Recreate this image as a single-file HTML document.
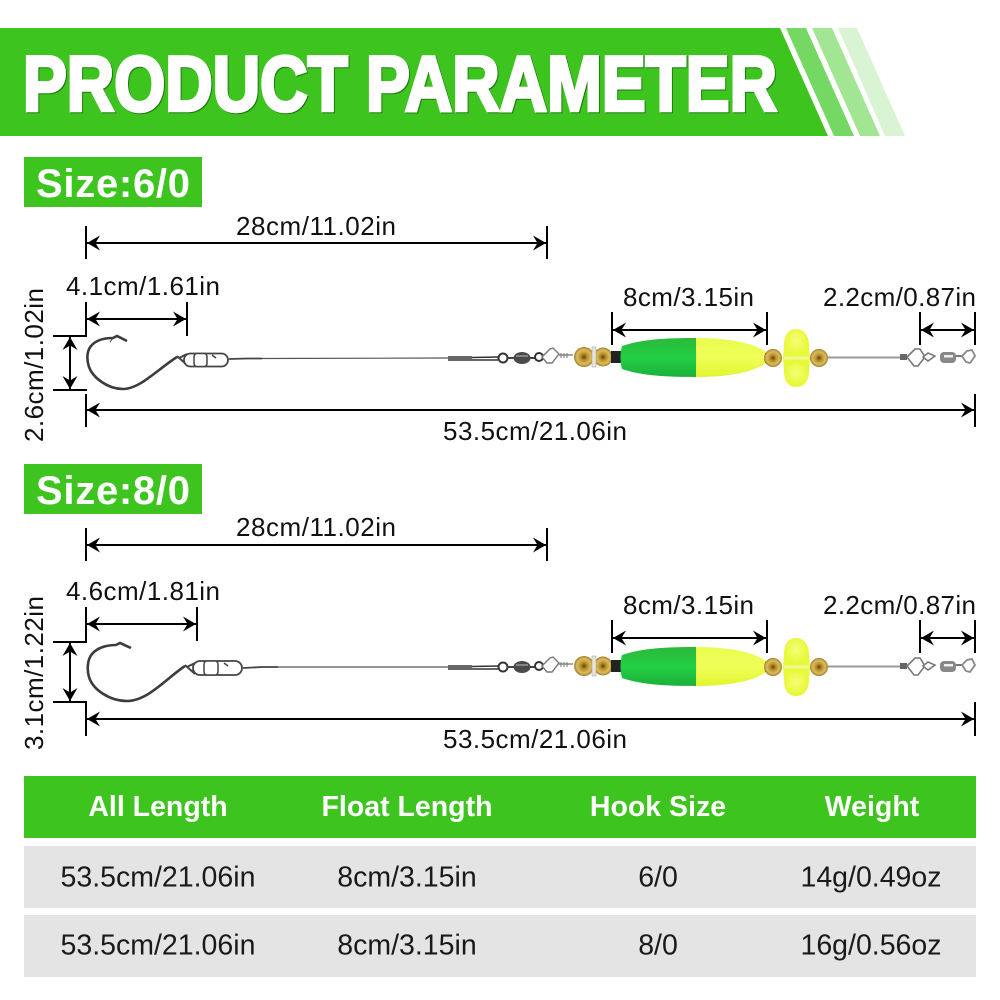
<!DOCTYPE html>
<html><head><meta charset="utf-8"><style>html,body{margin:0;padding:0;background:#fff}svg{display:block}text{font-family:"Liberation Sans",sans-serif}</style></head><body>
<svg width="1000" height="1000" viewBox="0 0 1000 1000" xmlns="http://www.w3.org/2000/svg">
<defs>
<path id="al" d="M0 0L13-7.5 8.5 0 13 7.5Z" fill="#000"/>
<path id="ar" d="M0 0L-13-7.5-8.5 0-13 7.5Z" fill="#000"/>
<path id="au" d="M0 0L-7.5 13 0 8.5 7.5 13Z" fill="#000"/>
<path id="ad" d="M0 0L-7.5-13 0-8.5 7.5-13Z" fill="#000"/>
<linearGradient id="gr" x1="0" y1="0" x2="0" y2="1"><stop offset="0" stop-color="#2cb83a"/><stop offset=".5" stop-color="#22d044"/><stop offset="1" stop-color="#1bb03a"/></linearGradient>
<linearGradient id="ye" x1="0" y1="0" x2="0" y2="1"><stop offset="0" stop-color="#eafc50"/><stop offset=".5" stop-color="#f0ff58"/><stop offset="1" stop-color="#e0f530"/></linearGradient>
<radialGradient id="go" cx=".5" cy=".5" r=".55"><stop offset="0" stop-color="#5e4410"/><stop offset=".3" stop-color="#b88f2a"/><stop offset=".65" stop-color="#dcbc5c"/><stop offset="1" stop-color="#8a6a1c"/></radialGradient>
<radialGradient id="yk" cx=".5" cy=".45" r=".55"><stop offset="0" stop-color="#f6ff78"/><stop offset="1" stop-color="#e8f83a"/></radialGradient>
<g id="rig">
<path d="M472 357.500L498 357" fill="none" stroke="#333" stroke-width="1.500"/>
<path d="M472 360L498 360" fill="none" stroke="#333" stroke-width="1.500"/>
<rect x="448" y="356" width="24" height="5" fill="#666"/>
<circle cx="503" cy="358" r="4.500" fill="#fff" stroke="#333" stroke-width="2"/>
<path d="M507 358L514 358" stroke="#444" stroke-width="2"/>
<ellipse cx="522" cy="358" rx="8.500" ry="6" fill="#4a4a4a"/>
<path d="M516 356H528" stroke="#999" stroke-width="1.500"/>
<path d="M530 358L535 358" stroke="#444" stroke-width="2"/>
<circle cx="539" cy="357" r="4" fill="#fff" stroke="#333" stroke-width="2"/>
<path d="M542 357L550 349 553 348 559 354 552 363 547 363Z" fill="#fff" stroke="#777" stroke-width="1.400"/>
<path d="M559 355H573" stroke="#888" stroke-width="1.500"/>
<path d="M561 353v5M564 353v5M567 353v5" stroke="#777" stroke-width="1"/>
<circle cx="584" cy="357" r="10" fill="url(#go)"/>
<circle cx="603" cy="357" r="9.500" fill="url(#go)"/>
<rect x="592" y="347" width="4" height="20" fill="#e8e4d8" stroke="#aaa" stroke-width=".6"/>
<rect x="611" y="351" width="12" height="12" fill="#222"/>
<path d="M696 338C660 338 640 340 622 346C620 353 620 362 622 369C640 375 660 377 696 377Z" fill="url(#gr)"/>
<path d="M696 338C725 338 752 342 766 352V363C752 373 725 377 696 377Z" fill="url(#ye)"/>
<rect x="765" y="353" width="5" height="10" fill="#222"/>
<circle cx="773" cy="358" r="9" fill="url(#go)"/>
<path d="M796 329C804 329 809 336 809 345L810 358 809 371C809 381 804 387 796 387C788 387 784 381 784 371L783 358 784 345C784 336 788 329 796 329Z" fill="#e8f83a"/>
<ellipse cx="796" cy="342" rx="11" ry="12" fill="url(#yk)"/>
<ellipse cx="796" cy="374" rx="11" ry="11" fill="url(#yk)"/>
<path d="M784 358H809" stroke="#f0f890" stroke-width="3"/>
<circle cx="819" cy="358" r="9" fill="url(#go)"/>
<path d="M828 357.500H900" stroke="#999" stroke-width="2"/>
<rect x="900" y="354" width="7" height="6" fill="#666"/>
<path d="M907 357L915 349 920 349 925 357 918 366 914 366Z" fill="#fff" stroke="#777" stroke-width="1.600"/>
<path d="M923 357L928 353 935 356 928 361Z" fill="#fff" stroke="#777" stroke-width="1.500"/>
<rect x="940" y="352" width="16" height="11" rx="4" fill="#888"/>
<rect x="944" y="355" width="9" height="2.500" fill="#eee"/>
<path d="M956 356H962" stroke="#777" stroke-width="2"/>
<path d="M962 356L967 351 972 350 975 356 970 363 966 362Z" fill="#fff" stroke="#888" stroke-width="1.800"/>
</g>
<g id="d8"><path d="M612 312V345M767 312V345M920 312V345M975 312V345M613 330H766M921 330H974" stroke="#000" stroke-width="2" fill="none"/><use href="#al" x="613" y="330"/><use href="#ar" x="766" y="330"/><use href="#al" x="921" y="330"/><use href="#ar" x="974" y="330"/></g>
</defs>

<!-- banner -->
<path d="M0 28H780L828 136H0Z" fill="#3dc41e"/>
<path d="M786 28H806L854 136H834Z" fill="#75d862"/>
<path d="M812 28H832L880 136H860Z" fill="#a2e593"/>
<path d="M838 28H857L905 136H885Z" fill="#d9f4d3"/>
<text x="24" y="111.500" font-size="78" font-weight="700" fill="#1f7a10" stroke="#1f7a10" stroke-width="3.500" textLength="754" lengthAdjust="spacingAndGlyphs">PRODUCT PARAMETER</text>
<text x="23" y="110.500" font-size="78" font-weight="700" fill="#fff" stroke="#fff" stroke-width="3.500" textLength="754" lengthAdjust="spacingAndGlyphs">PRODUCT PARAMETER</text>

<!-- section 1 -->
<rect x="24" y="157" width="178" height="50" fill="#3dc41e"/>
<text x="36" y="197" font-size="40" font-weight="700" fill="#fff" textLength="154">Size:6/0</text>
<g stroke="#000" stroke-width="2" fill="none">
<path d="M86 226V259M547 226V259M87 243H546"/>
<path d="M86 302V336H53M187 302V336M87 319H186M53 390H87M70 337V389M86 394V427M975 394V427M87 410H974"/>
</g>
<use href="#al" x="87" y="243"/><use href="#ar" x="546" y="243"/>
<use href="#al" x="87" y="319"/><use href="#ar" x="186" y="319"/>
<use href="#au" x="70" y="337"/><use href="#ad" x="70" y="389"/>
<use href="#al" x="87" y="410"/><use href="#ar" x="974" y="410"/>
<use href="#d8"/>
<g font-size="26" fill="#111">
<text x="236" y="235" textLength="160">28cm/11.02in</text>
<text x="66" y="295" textLength="154">4.1cm/1.61in</text>
<text x="623" y="306" textLength="131">8cm/3.15in</text>
<text x="823" y="306" textLength="153">2.2cm/0.87in</text>
<text x="443" y="440" textLength="184">53.5cm/21.06in</text>
<text transform="translate(43 442) rotate(-90)" textLength="154">2.6cm/1.02in</text>
</g>
<path d="M127 341L117 336 113 338C104 338 96 340 91 346C86 352 87 361 89 367C93 378 108 389 123 389C140 389 158 369 177 357" fill="none" stroke="#3c3c3c" stroke-width="2.600"/>
<path d="M113 338L110 342" stroke="#444" stroke-width="1"/>
<path d="M177 356L187 365M179 358L187 354" stroke="#444" stroke-width="2" fill="none"/>
<rect x="184" y="353.500" width="44" height="13" rx="6.500" fill="#fff" stroke="#444" stroke-width="1.800"/>
<rect x="194" y="353.500" width="13" height="13" rx="3" fill="#fff" stroke="#444" stroke-width="1.500"/>
<path d="M212 355L216 358" stroke="#444" stroke-width="1.500"/>
<path d="M229 359L247 358.500H262" stroke="#444" stroke-width="1.800"/>
<path d="M262 358.500L448 358" stroke="#555" stroke-width="1.200"/>
<use href="#rig"/>

<!-- section 2 -->
<rect x="24" y="464" width="178" height="50" fill="#3dc41e"/>
<text x="36" y="504" font-size="40" font-weight="700" fill="#fff" textLength="154">Size:8/0</text>
<g stroke="#000" stroke-width="2" fill="none">
<path d="M86 528V561M547 528V561M87 545H546"/>
<path d="M86 607V642H53M197 607V641M87 624H196M53 702H86V736M70 643V701M975 702V736M87 719H974"/>
</g>
<use href="#al" x="87" y="545"/><use href="#ar" x="546" y="545"/>
<use href="#al" x="87" y="624"/><use href="#ar" x="196" y="624"/>
<use href="#au" x="70" y="643"/><use href="#ad" x="70" y="701"/>
<use href="#al" x="87" y="719"/><use href="#ar" x="974" y="719"/>
<use href="#d8" y="308"/>
<g font-size="26" fill="#111">
<text x="236" y="536" textLength="160">28cm/11.02in</text>
<text x="66" y="600" textLength="154">4.6cm/1.81in</text>
<text x="623" y="614" textLength="131">8cm/3.15in</text>
<text x="823" y="614" textLength="153">2.2cm/0.87in</text>
<text x="443" y="748" textLength="184">53.5cm/21.06in</text>
<text transform="translate(43 750) rotate(-90)" textLength="154">3.1cm/1.22in</text>
</g>
<path d="M131 648L120 643 116 645C106 645 97 648 92 654C87 660 87 670 89 677C93 690 110 701 127 701C148 701 168 677 185 666" fill="none" stroke="#3c3c3c" stroke-width="2.600"/>
<path d="M185 665L195 674M187 667L195 663" stroke="#444" stroke-width="2" fill="none"/>
<rect x="193" y="661" width="49" height="14" rx="7" fill="#fff" stroke="#444" stroke-width="1.800"/>
<rect x="204" y="661" width="14" height="14" rx="3" fill="#fff" stroke="#444" stroke-width="1.500"/>
<path d="M224 663L228 666" stroke="#444" stroke-width="1.500"/>
<path d="M243 668L262 667H278" stroke="#444" stroke-width="1.800"/>
<path d="M278 667L448 667" stroke="#555" stroke-width="1.200"/>
<use href="#rig" y="309"/>

<!-- table -->
<rect x="24" y="776" width="952" height="62" fill="#3dc41e"/>
<rect x="24" y="846" width="952" height="62" fill="#e4e4e4"/>
<rect x="24" y="915" width="952" height="62" fill="#e4e4e4"/>
<g font-size="28.500" font-weight="700" fill="#fff" text-anchor="middle">
<text x="158" y="816">All Length</text>
<text x="407" y="816">Float Length</text>
<text x="658" y="816">Hook Size</text>
<text x="872" y="816">Weight</text>
</g>
<g font-size="28.500" fill="#1a1a1a" text-anchor="middle">
<text x="158" y="886.500">53.5cm/21.06in</text>
<text x="407" y="886.500">8cm/3.15in</text>
<text x="658" y="886.500">6/0</text>
<text x="871" y="886.500">14g/0.49oz</text>
<text x="158" y="954.500">53.5cm/21.06in</text>
<text x="407" y="954.500">8cm/3.15in</text>
<text x="658" y="954.500">8/0</text>
<text x="871" y="954.500">16g/0.56oz</text>
</g>
</svg>
</body></html>
